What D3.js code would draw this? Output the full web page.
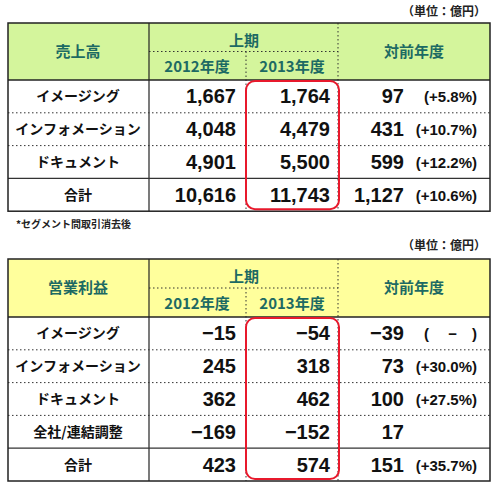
<!DOCTYPE html><html><head><meta charset="utf-8"><script src="https://cdn.jsdelivr.net/npm/d3@7"></script>
<style>body{margin:0;background:#fff}</style></head><body><svg id="c" width="500" height="487"></svg>
<script>
const salesCats=["イメージング","インフォメーション","ドキュメント","合計"];
const sales2012=["1,667","4,048","4,901","10,616"];
const sales2013=["1,764","4,479","5,500","11,743"];
const salesDiff=["97","431","599","1,127"];
const salesPct=["(+5.8%)","(+10.7%)","(+12.2%)","(+10.6%)"];
const opCats=["イメージング","インフォメーション","ドキュメント","全社/連結調整","合計"];
const op2012=["−15","245","362","−169","423"];
const op2013=["−54","318","462","−152","574"];
const opDiff=["−39","73","100","17","151"];
const opPct=["(\u3000 −\u3000)","(+30.0%)","(+27.5%)","","(+35.7%)"];
const yearLabels=["2012年度","2013年度"];

const svg=d3.select("#c"),F="'Noto Sans CJK JP','Noto Sans',sans-serif",N="'Liberation Sans',Arial,sans-serif";
function table(o){
  const {top,headH,rowH,fill,title,cats,a,b,d,p,unitY}=o;
  const n=cats.length, bottom=top+headH+rowH*n;
  const g=svg.append("g");
  g.append("text").attr("x",486).attr("y",unitY).attr("text-anchor","end").attr("font-family",F).attr("font-weight","bold").attr("font-size",12).attr("fill","#222").text("（単位：億円）");
  g.append("rect").attr("x",8).attr("y",top).attr("width",482).attr("height",headH).attr("fill",fill);
  const tc="#1d6a63";
  const T=(xx,yy,t,anc,sz,col,fam)=>g.append("text").attr("x",xx).attr("y",yy).attr("text-anchor",anc).attr("font-family",fam||F).attr("font-weight","bold").attr("font-size",sz).attr("fill",col).text(t);
  T(78,top+headH/2+5,title,"middle",15,tc);
  T(244,top+headH*0.28+7,"上期","middle",15,tc);
  T(197,top+headH*0.75+6,yearLabels[0],"middle",15,tc);
  T(292,top+headH*0.75+6,yearLabels[1],"middle",15,tc);
  T(414,top+headH/2+5,"対前年度","middle",15,tc);
  const dot="1.5,2.5";
  g.append("line").attr("x1",149).attr("x2",338).attr("y1",top+headH/2).attr("y2",top+headH/2).attr("stroke","#333").attr("stroke-dasharray",dot);
  g.append("line").attr("x1",246).attr("x2",246).attr("y1",top+headH/2).attr("y2",bottom).attr("stroke","#333").attr("stroke-dasharray",dot);
  g.append("line").attr("x1",338).attr("x2",338).attr("y1",top).attr("y2",bottom).attr("stroke","#333").attr("stroke-dasharray",dot);
  g.append("line").attr("x1",149).attr("x2",149).attr("y1",top).attr("y2",bottom).attr("stroke","#222").attr("stroke-width",1.2);
  cats.forEach((c,i)=>{
    const y0=top+headH+i*rowH, cy=y0+rowH/2;
    if(i>0){const last=i===n-1;g.append("line").attr("x1",8).attr("x2",490).attr("y1",y0).attr("y2",y0).attr("stroke","#333").attr("stroke-width",last?1.3:1).attr("stroke-dasharray",last?null:dot);}
    T(78,cy+5,c,"middle",14,"#111");
    T(236,cy+7,a[i],"end",20,"#111",N);
    T(330,cy+7,b[i],"end",20,"#111",N);
    T(404,cy+7,d[i],"end",20,"#111",N);
    T(477,cy+6,p[i],"end",15,"#111",N);
  });
  g.append("line").attr("x1",8).attr("x2",490).attr("y1",top+headH).attr("y2",top+headH).attr("stroke","#222").attr("stroke-width",1.3);
  g.append("rect").attr("x",8).attr("y",top).attr("width",482).attr("height",bottom-top).attr("fill","none").attr("stroke","#222").attr("stroke-width",1.5);
  g.append("rect").attr("x",246).attr("y",top+headH+1).attr("width",93).attr("height",bottom-top-headH-3).attr("rx",9).attr("fill","none").attr("stroke","#e8192c").attr("stroke-width",2);
  return bottom;
}
table({top:23,headH:57,rowH:32.8,fill:"#d4f59c",title:"売上高",cats:salesCats,a:sales2012,b:sales2013,d:salesDiff,p:salesPct,unitY:16});
svg.append("text").attr("x",16).attr("y",228).attr("font-family",F).attr("font-size",10).attr("font-weight","bold").attr("fill","#222").text("*セグメント間取引消去後");
table({top:259,headH:58,rowH:32.8,fill:"#ffff9c",title:"営業利益",cats:opCats,a:op2012,b:op2013,d:opDiff,p:opPct,unitY:250});
</script></body></html>
